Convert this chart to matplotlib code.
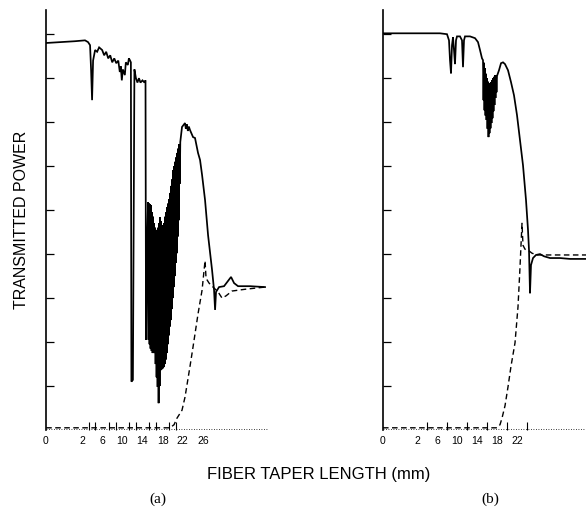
import matplotlib
matplotlib.use("Agg")
import matplotlib.pyplot as plt

# ---------------- data (mm, arbitrary power units) ----------------
a_solid_x = [-5.1, -2.4, 0.6, 2.6, 3.2, 3.6, 3.8, 4.0, 4.2, 4.6, 5.0, 5.4, 6.0, 6.4, 6.8,
             7.2, 7.6, 8.0, 8.4, 8.8, 9.2, 9.5, 9.7, 9.9, 10.1, 10.5, 10.7, 11.1, 11.3,
             11.5, 11.7, 11.8, 12.1, 12.4, 12.7, 13.0, 13.3, 13.6, 14.0, 14.4, 14.6,
             14.7, 14.9,
             15.1, 15.2, 15.3, 15.4, 15.5, 15.6, 15.7, 15.8, 15.9, 16.0, 16.1, 16.2, 16.3,
             16.4, 16.5, 16.6, 16.7, 16.8, 16.9, 17.0, 17.1, 17.2, 17.3, 17.4, 17.5, 17.6,
             17.7, 17.8, 17.9, 18.0, 18.1, 18.2, 18.3, 18.4, 18.5, 18.6, 18.7, 18.8, 18.9,
             19.0, 19.1, 19.2, 19.3, 19.4, 19.5, 19.6, 19.7, 19.8, 19.9, 20.0, 20.1, 20.2,
             20.3, 20.4, 20.5, 20.6, 20.7, 20.8, 20.9, 21.0, 21.1, 21.2, 21.3, 21.4, 21.5,
             21.84, 22.44, 22.6, 22.8, 23.0, 23.2, 23.43, 24.03, 24.42, 25.02, 25.42,
             25.82, 26.41, 27.01, 27.80, 28.20, 28.40, 28.59, 29.19, 30.18, 30.97, 31.57,
             32.17, 32.96, 35.34, 38.31]
a_solid_y = [8.80, 8.82, 8.84, 8.86, 8.82, 8.75, 8.2, 7.5, 8.4, 8.64, 8.6, 8.7, 8.64, 8.52, 8.6,
             8.45, 8.52, 8.36, 8.45, 8.34, 8.4, 8.14, 8.27, 7.95, 8.2, 8.07, 8.36, 8.3, 8.45,
             8.41, 8.36, 1.1, 1.14, 8.2, 8.0, 7.9, 8.0, 7.9, 7.95, 7.9, 7.95,
             2.05, 4.0,
             5.18, 2.05, 5.15, 1.95, 5.13, 1.85, 5.11, 1.8, 4.95, 1.75, 4.85, 1.75, 4.7,
             1.75, 4.6, 1.5, 4.48, 1.2, 4.55, 0.98, 4.6, 0.61, 4.7, 1.0, 4.84, 1.36,
             4.75, 1.38, 4.65, 1.4, 4.55, 1.43, 4.7, 1.5, 4.85, 1.6, 4.95, 1.75, 5.07,
             1.95, 5.15, 2.15, 5.25, 2.35, 5.39, 2.5, 5.55, 2.75, 5.7, 3.0, 5.91, 3.25,
             6.0, 3.5, 6.1, 3.8, 6.2, 4.02, 6.3, 4.4, 6.4, 4.77, 6.5, 5.6, 6.55,
             6.89, 6.98, 6.85, 6.95, 6.8, 6.9, 6.82, 6.66, 6.64, 6.30, 6.14,
             5.80, 5.23, 4.43, 3.64, 3.18, 2.73, 3.14, 3.25, 3.27, 3.39, 3.48,
             3.34, 3.27, 3.27, 3.25]

a_dash_x = [-5.1, 19.46, 20.26, 20.85, 21.84, 22.44, 23.43, 24.03, 25.02, 25.82, 26.41,
            26.61, 27.21, 28.0, 28.99, 29.78, 30.57, 31.77, 34.35, 38.31]
a_dash_y = [0.05, 0.05, 0.12, 0.27, 0.45, 0.75, 1.45, 1.89, 2.64, 3.18, 3.85,
            3.45, 3.34, 3.25, 3.14, 3.0, 3.05, 3.16, 3.20, 3.25]

b_solid_x = [-4.8, -1.4, 2.6, 6.6, 8.0, 8.4, 8.6, 8.8, 9.0, 9.2, 9.4, 9.6, 9.8, 10.0, 10.6,
             11.0, 11.2, 11.4, 11.6, 12.6, 13.6, 14.2, 14.6, 15.0,
             15.2, 15.3, 15.4, 15.5, 15.6, 15.7, 15.8, 15.9, 16.0, 16.1, 16.2, 16.3, 16.4,
             16.5, 16.6, 16.7, 16.8, 16.9, 17.0, 17.1, 17.2, 17.3, 17.4, 17.5, 17.6, 17.7,
             17.8, 17.9, 18.0,
             18.4, 18.8, 19.2, 19.6, 20.2, 20.8, 21.4, 22.0, 22.6, 23.2, 23.8,
             24.2, 24.4, 24.6, 24.8, 25.2, 25.8, 26.6, 27.4, 28.6, 30.6, 32.6, 35.8]
b_solid_y = [9.02, 9.02, 9.02, 9.02, 9.0, 8.86, 8.41, 8.11, 8.75, 8.93, 8.64, 8.32, 8.86, 8.95, 8.95,
             8.86, 8.25, 8.86, 8.95, 8.95, 8.91, 8.82, 8.64, 8.45,
             8.41, 7.5, 8.35, 7.27, 8.23, 7.15, 8.1, 7.05, 8.0, 6.85, 7.92, 6.66, 7.84,
             6.75, 7.88, 6.86, 7.91, 6.98, 7.95, 7.09, 8.0, 7.25, 8.03, 7.39, 8.07, 7.55,
             8.06, 7.68, 8.05,
             8.18, 8.34, 8.36, 8.32, 8.18, 7.91, 7.61, 7.16, 6.59, 6.02, 5.23,
             4.55, 4.09, 3.11, 3.75, 3.91, 3.98, 4.0, 3.95, 3.91, 3.91, 3.89, 3.89]

b_dash_x = [-4.8, 18.0, 18.6, 19.0, 19.6, 20.2, 20.8, 21.6, 22.2, 22.6, 23.0, 23.2, 23.6,
            24.2, 25.0, 26.0, 35.8]
b_dash_y = [0.05, 0.05, 0.12, 0.27, 0.55, 0.98, 1.45, 1.98, 2.80, 3.70, 4.70, 4.2, 4.11,
            4.09, 4.02, 3.98, 3.98]

y_ticks = [1, 2, 3, 4, 5, 6, 7, 8, 9]
a_label_pos = [-5.14, 2, 6, 10, 14, 18, 22, 26]
b_label_pos = [-4.8, 2, 6, 10, 14, 18, 22]
a_labels = ["0", "2", "6", "10", "14", "18", "22", "26"]
b_labels = ["0", "2", "6", "10", "14", "18", "22"]
a_minor = [2, 3.33, 4.67, 6, 7.33, 8.67, 10, 11.33, 12.67, 14, 15.33, 16.67, 18,
           19.33, 20.67, 22, 26]
b_minor = [2, 4, 6, 8, 10, 12, 14, 16, 18, 20, 22, 24]

# ---------------- figure ----------------
fig = plt.figure(figsize=(5.86, 5.11), dpi=100)
W, H = 586, 511

def make_ax(left_px, right_px, xlim, solid, dash, label_pos, labels, minor):
    ax = fig.add_axes([left_px / W, 1 - 430 / H, (right_px - left_px) / W, 420 / H])
    ax.plot(solid[0], solid[1], color="black", lw=1.25, solid_joinstyle="miter")
    ax.plot(dash[0], dash[1], color="black", lw=1.0, ls=(0, (4, 2.5)))
    ax.set_xlim(*xlim)
    ax.set_ylim(0, 9.55)
    for s in ["top", "right", "bottom"]:
        ax.spines[s].set_visible(False)
    ax.spines["left"].set_linewidth(1.2)
    ax.set_yticks(y_ticks)
    ax.set_yticklabels([])
    ax.tick_params(axis="y", direction="in", length=6, width=0.9)
    ax.set_xticks(label_pos)
    ax.set_xticklabels(labels, fontsize=7.5, family="Liberation Sans")
    ax.set_xticks(minor, minor=True)
    ax.tick_params(axis="x", which="both", direction="in", length=6, width=0.8, pad=4)
    ax.tick_params(axis="x", which="major", length=0)
    ax.axhline(0.03, color="black", lw=0.6, ls=(0, (1, 2)))
    return ax

ax_a = make_ax(46, 268, (-5.14, 38.9), (a_solid_x, a_solid_y), (a_dash_x, a_dash_y),
               a_label_pos, a_labels, a_minor)
ax_b = make_ax(383, 586, (-4.8, 35.8), (b_solid_x, b_solid_y), (b_dash_x, b_dash_y),
               b_label_pos, b_labels, b_minor)

fig.text(22 / W, 1 - 220 / H, "TRANSMITTED POWER", rotation=90, ha="center", va="center",
         fontsize=11.5, family="Liberation Sans")
fig.text(319 / W, 1 - 474 / H, "FIBER TAPER LENGTH (mm)", ha="center", va="center",
         fontsize=12, family="Liberation Sans")
fig.text(158 / W, 1 - 499 / H, "(a)", ha="center", va="center", fontsize=11,
         family="Liberation Serif")
fig.text(490 / W, 1 - 499 / H, "(b)", ha="center", va="center", fontsize=11,
         family="Liberation Serif")

fig.savefig("out.png", dpi=100)
